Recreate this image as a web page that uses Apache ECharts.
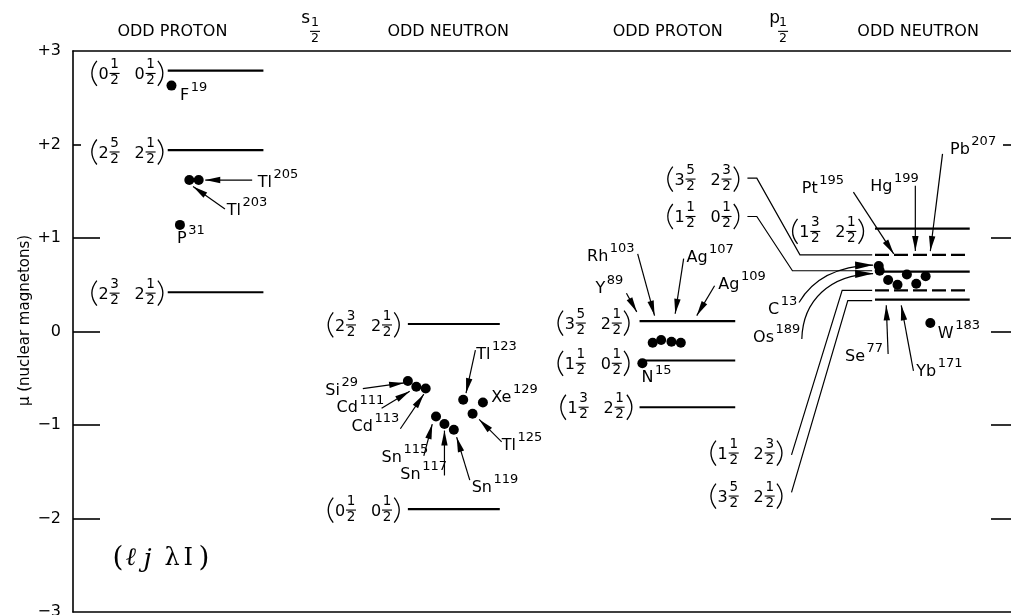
<!DOCTYPE html>
<html>
<head>
<meta charset="utf-8">
<script src="https://cdn.jsdelivr.net/npm/echarts@6/dist/echarts.min.js"></script>
<style>
html, body { margin: 0; padding: 0; background: #fff; }
#chart { width: 1011px; height: 615px; }
</style>
</head>
<body>
<div id="chart"></div>
<script>
// magnetic moments of odd nuclei vs. single particle (Schmidt) levels
// x is only a layout coordinate across the four panels (0..10), y is mu

var yLabelValues = [3, 2, 1, 0, -1, -2, -3];

// [title, x centre]
var panelTitles = [['ODD PROTON', 1.06], ['ODD NEUTRON', 4.00], ['ODD PROTON', 6.34], ['ODD NEUTRON', 9.01]];
var titleMu = 3.21;
// [letter, x of letter, x of the 1/2 under it]
var shellMarks = [['s', 2.48, 2.58], ['p', 7.48, 7.57]];
var shellLetterMu = 3.35;

// levels [xStart, xEnd, mu]
var solidLevels = [
  [1.01, 2.03, 2.79], [1.01, 2.03, 1.94], [1.01, 2.03, 0.42],
  [3.57, 4.55, 0.08], [3.57, 4.55, -1.90],
  [6.04, 7.06, 0.11], [6.04, 7.06, -0.31], [6.04, 7.06, -0.81],
  [8.55, 9.56, 1.10], [8.55, 9.56, 0.64], [8.55, 9.56, 0.34]
];
var dashedLevels = [[8.55, 9.56, 0.82], [8.55, 9.56, 0.44]];

// level labels (l j lambda I) : [l, j, lambda, I, x right edge, mu]
var levelLabels = [
  ['0', '1/2', '0', '1/2', 0.99, 2.76],
  ['2', '5/2', '2', '1/2', 0.99, 1.92],
  ['2', '3/2', '2', '1/2', 0.99, 0.41],
  ['2', '3/2', '2', '1/2', 3.51, 0.07],
  ['0', '1/2', '0', '1/2', 3.51, -1.91],
  ['3', '5/2', '2', '1/2', 5.96, 0.09],
  ['1', '1/2', '0', '1/2', 5.96, -0.34],
  ['1', '3/2', '2', '1/2', 5.99, -0.81],
  ['3', '5/2', '2', '3/2', 7.13, 1.63],
  ['1', '1/2', '0', '1/2', 7.13, 1.23],
  ['1', '1/2', '2', '3/2', 7.59, -1.30],
  ['3', '5/2', '2', '1/2', 7.59, -1.76],
  ['1', '3/2', '2', '1/2', 8.46, 1.07]
];

// measured moments [x, mu]
var sProton = [[1.05, 2.63], [1.24, 1.62], [1.34, 1.62], [1.14, 1.14]];           // F19 Tl203 Tl205 P31
var sNeutron = [[3.57, -0.53], [3.66, -0.59], [3.76, -0.61], [3.87, -0.91], [3.96, -0.99],
                [4.06, -1.05], [4.16, -0.73], [4.37, -0.76], [4.26, -0.88]];       // Si Cd Cd Sn Sn Sn Tl Xe Tl
var pProton = [[6.07, -0.34], [6.18, -0.12], [6.27, -0.09], [6.38, -0.11], [6.48, -0.12]]; // N15 Y89 Rh103 Ag107 Ag109
var pNeutron = [[8.59, 0.70], [8.60, 0.65], [8.69, 0.55], [8.79, 0.50], [8.89, 0.61],
                [8.99, 0.51], [9.09, 0.59], [9.14, 0.09]];                          // C13 Os189 Se77 Yb171 Pt195 Hg199 Pb207 W183

// nuclide names [symbol, A, x left, mu]
var nuclideLabels = [
  ['F', '19', 1.14, 2.52], ['Tl', '205', 1.97, 1.59], ['Tl', '203', 1.64, 1.29], ['P', '31', 1.11, 0.99],
  ['Si', '29', 2.69, -0.63], ['Cd', '111', 2.81, -0.82], ['Cd', '113', 2.97, -1.02],
  ['Sn', '115', 3.29, -1.35], ['Sn', '117', 3.49, -1.53], ['Sn', '119', 4.25, -1.67],
  ['Tl', '123', 4.30, -0.25], ['Xe', '129', 4.46, -0.71], ['Tl', '125', 4.57, -1.22],
  ['Rh', '103', 5.48, 0.80], ['Y', '89', 5.57, 0.46], ['Ag', '107', 6.54, 0.79], ['Ag', '109', 6.88, 0.50],
  ['N', '15', 6.06, -0.50],
  ['Pt', '195', 7.77, 1.53], ['Hg', '199', 8.50, 1.55], ['Pb', '207', 9.35, 1.94],
  ['C', '13', 7.41, 0.23], ['Os', '189', 7.25, -0.07], ['Se', '77', 8.23, -0.27],
  ['Yb', '171', 8.99, -0.43], ['W', '183', 9.22, -0.02]
];

// arrows [x from, mu from, x to, mu to]
var arrows = [
  [1.91, 1.62, 1.41, 1.62], [1.62, 1.31, 1.28, 1.55],
  [3.09, -0.61, 3.53, -0.55], [3.29, -0.82, 3.59, -0.64], [3.49, -1.04, 3.74, -0.67],
  [3.74, -1.33, 3.83, -0.99], [3.96, -1.54, 3.96, -1.06], [4.23, -1.59, 4.09, -1.13],
  [4.29, -0.20, 4.19, -0.66], [4.57, -1.18, 4.33, -0.94],
  [6.02, 0.83, 6.20, 0.17], [5.90, 0.41, 6.01, 0.21], [6.51, 0.78, 6.42, 0.19], [6.84, 0.49, 6.65, 0.17],
  [8.32, 1.49, 8.75, 0.83], [8.98, 1.56, 8.98, 0.86], [9.27, 1.90, 9.14, 0.86],
  [8.69, -0.24, 8.67, 0.28], [8.96, -0.42, 8.83, 0.28]
];
// curved arrows (C13, Os189) [x1, mu1, c1x, c1mu, c2x, c2mu, x2, mu2]
var curvedArrows = [
  [7.74, 0.31, 7.88, 0.55, 8.12, 0.70, 8.53, 0.71],
  [7.77, -0.08, 7.78, 0.33, 8.07, 0.61, 8.53, 0.62]
];
// leader lines from labels to p1/2 neutron levels
var leaders = [
  [[7.19, 1.64], [7.29, 1.64], [7.75, 0.82], [8.52, 0.82]],
  [[7.19, 1.23], [7.29, 1.23], [7.67, 0.65], [8.52, 0.65]],
  [[7.66, -1.32], [8.20, 0.44], [8.52, 0.44]],
  [[7.66, -1.72], [8.26, 0.33], [8.52, 0.33]]
];
// (l j lambda I) key
var keyLabel = [[0.42, -2.43]];

var FONT = 'DejaVu Sans';
var mctx = document.createElement('canvas').getContext('2d');
function textW(s, size) {
  mctx.font = size + 'px "' + FONT + '"';
  return mctx.measureText(s).width;
}
function txt(s, x, y, size, opt) {
  opt = opt || {};
  return {
    type: 'text', x: x, y: y,
    style: {
      text: s, fontSize: size, fontFamily: opt.family || FONT,
      fontStyle: opt.italic ? 'italic' : 'normal',
      fill: '#000', align: opt.align || 'center', verticalAlign: 'middle'
    }
  };
}
function seg(x1, y1, x2, y2, w, dash) {
  var st = { stroke: '#000', lineWidth: w };
  if (dash) st.lineDash = dash;
  return { type: 'line', shape: { x1: x1, y1: y1, x2: x2, y2: y2 }, style: st };
}
function head(tip, from, len, hw) {
  var dx = tip[0] - from[0], dy = tip[1] - from[1];
  var d = Math.sqrt(dx * dx + dy * dy) || 1;
  var ux = dx / d, uy = dy / d;
  var bx = tip[0] - ux * len, by = tip[1] - uy * len;
  return {
    type: 'polygon',
    shape: { points: [tip, [bx - uy * hw, by + ux * hw], [bx + uy * hw, by - ux * hw]] },
    style: { fill: '#000' }
  };
}
function fraction(str, cx, cy, size) {
  var nd = str.split('/');
  return [txt(nd[0], cx, cy - 8.5, size), seg(cx - 5, cy, cx + 5, cy, 1.1), txt(nd[1], cx, cy + 7.5, size)];
}
function paren(x, cy, open) {
  var e = open ? x + 8 : x + 1.5, c = open ? x - 2 : x + 11.5;
  return {
    type: 'bezierCurve',
    shape: { x1: e, y1: cy - 12.5, x2: e, y2: cy + 12.5, cpx1: c, cpy1: cy },
    style: { stroke: '#000', lineWidth: 1.3, fill: null }
  };
}
function custom(items, z, draw) {
  return {
    type: 'custom', coordinateSystem: 'cartesian2d', silent: true, z: z, clip: false,
    data: items.map(function (d, i) { return [i, 0]; }),
    renderItem: function (params, api) { return draw(items[params.dataIndex], api); }
  };
}

var levelSeries = custom(solidLevels.concat(dashedLevels), 3, function (d, api) {
  var a = api.coord([d[0], d[2]]), b = api.coord([d[1], d[2]]);
  var dashed = dashedLevels.indexOf(d) >= 0;
  return seg(a[0], a[1], b[0], b[1], 2.2, dashed ? [14, 5] : null);
});

var levelLabelSeries = custom(levelLabels, 3, function (d, api) {
  var p = api.coord([d[4], d[5]]);
  var wp = 9.5, wd = 10.5, wf = 11.5, ws = 14;
  var x = p[0] - (2 * wp + 2 * wd + 2 * wf + ws), cy = p[1];
  var ch = [paren(x, cy, true)];
  x += wp;
  ch.push(txt(d[0], x + wd / 2, cy + 1.5, 16)); x += wd;
  ch = ch.concat(fraction(d[1], x + wf / 2, cy, 13.5)); x += wf + ws;
  ch.push(txt(d[2], x + wd / 2, cy + 1.5, 16)); x += wd;
  ch = ch.concat(fraction(d[3], x + wf / 2, cy, 13.5)); x += wf;
  ch.push(paren(x, cy, false));
  return { type: 'group', children: ch };
});

var nuclideSeries = custom(nuclideLabels, 5, function (d, api) {
  var p = api.coord([d[2], d[3]]);
  var w = textW(d[0], 16);
  return {
    type: 'group', children: [
      txt(d[0], p[0], p[1], 16, { align: 'left' }),
      txt(d[1], p[0] + w + 1.5, p[1] - 8, 13, { align: 'left' })
    ]
  };
});

var arrowSeries = custom(arrows, 4, function (d, api) {
  var a = api.coord([d[0], d[1]]), b = api.coord([d[2], d[3]]);
  return { type: 'group', children: [seg(a[0], a[1], b[0], b[1], 1.2), head(b, a, 15, 3.2)] };
});

var curveSeries = custom(curvedArrows, 4, function (d, api) {
  var a = api.coord([d[0], d[1]]), c1 = api.coord([d[2], d[3]]),
      c2 = api.coord([d[4], d[5]]), b = api.coord([d[6], d[7]]);
  return {
    type: 'group', children: [
      { type: 'bezierCurve', shape: { x1: a[0], y1: a[1], x2: b[0], y2: b[1], cpx1: c1[0], cpy1: c1[1], cpx2: c2[0], cpy2: c2[1] },
        style: { stroke: '#000', lineWidth: 1.2, fill: null } },
      head(b, c2, 18, 4)
    ]
  };
});

var leaderSeries = custom(leaders, 3, function (d, api) {
  return {
    type: 'polyline',
    shape: { points: d.map(function (q) { return api.coord(q); }) },
    style: { stroke: '#000', lineWidth: 1.2, fill: null }
  };
});

var titleSeries = custom(panelTitles, 5, function (d, api) {
  var p = api.coord([d[1], titleMu]);
  return txt(d[0], p[0], p[1], 16);
});

var shellSeries = custom(shellMarks, 5, function (d, api) {
  var p = api.coord([d[1], shellLetterMu]), q = api.coord([d[2], titleMu]);
  return { type: 'group', children: [txt(d[0], p[0], p[1], 17)].concat(fraction('1/2', q[0], q[1], 12.5)) };
});

var keySeries = custom(keyLabel, 5, function (d, api) {
  var p = api.coord(d), x = p[0], y = p[1];
  var serif = 'DejaVu Serif';
  return {
    type: 'group', children: [
      txt('(', x, y, 28, { align: 'left', family: serif }),
      txt('\u2113', x + 13, y, 25, { align: 'left', family: serif, italic: true }),
      txt('j', x + 31, y + 2, 26, { align: 'left', family: serif, italic: true }),
      txt('\u03bb', x + 52, y, 24, { align: 'left', family: serif }),
      txt('I', x + 71, y, 24, { align: 'left', family: serif }),
      txt(')', x + 86, y, 28, { align: 'left', family: serif })
    ]
  };
});

function tickAxis(pos, values, len, opts) {
  var ax = {
    type: 'value', min: -3, max: 3, interval: 1, position: pos,
    axisLine: { show: false, onZero: false },
    axisTick: { show: true, inside: true, length: len, customValues: values, lineStyle: { color: '#000', width: 1.6 } },
    axisLabel: { show: false },
    splitLine: { show: false }
  };
  return Object.assign(ax, opts || {});
}

var chart = echarts.init(document.getElementById('chart'));
chart.setOption({
  animation: false,
  backgroundColor: '#fff',
  grid: { left: 73, right: 0, top: 51, bottom: 3, outerBoundsMode: 'none', containLabel: false },
  xAxis: [
    { type: 'value', min: 0, max: 10, position: 'bottom',
      axisLine: { show: true, onZero: false, lineStyle: { color: '#000', width: 1.6 } },
      axisTick: { show: false }, axisLabel: { show: false }, splitLine: { show: false } },
    { type: 'value', min: 0, max: 10, position: 'top',
      axisLine: { show: true, onZero: false, lineStyle: { color: '#000', width: 1.6 } },
      axisTick: { show: false }, axisLabel: { show: false }, splitLine: { show: false } }
  ],
  yAxis: [
    tickAxis('left', [1, 0, -1, -2], 27, {
      axisLine: { show: true, onZero: false, lineStyle: { color: '#000', width: 1.6 } },
      axisLabel: {
        show: true, customValues: yLabelValues, margin: 12, fontSize: 16, fontFamily: FONT, color: '#000',
        formatter: function (v) { return v > 0 ? '+' + v : (v < 0 ? '\u2212' + (-v) : '0'); }
      },
      name: '\u03bc (nuclear magnetons)', nameLocation: 'middle', nameRotate: 90, nameGap: 40,
      nameMoveOverlap: false,
      nameTextStyle: { fontSize: 15, fontFamily: FONT, color: '#000', padding: [0, 0, 0, 22] }
    }),
    tickAxis('left', [2], 8),
    tickAxis('right', [1, 0, -1, -2], 20),
    tickAxis('right', [2], 8)
  ],
  series: [
    levelSeries, levelLabelSeries, leaderSeries, arrowSeries, curveSeries,
    {
      type: 'scatter', silent: true, z: 6, symbol: 'circle', symbolSize: 10,
      itemStyle: { color: '#000', opacity: 1 },
      data: sProton.concat(sNeutron, pProton, pNeutron)
    },
    nuclideSeries, titleSeries, shellSeries, keySeries
  ]
});
</script>
</body>
</html>
